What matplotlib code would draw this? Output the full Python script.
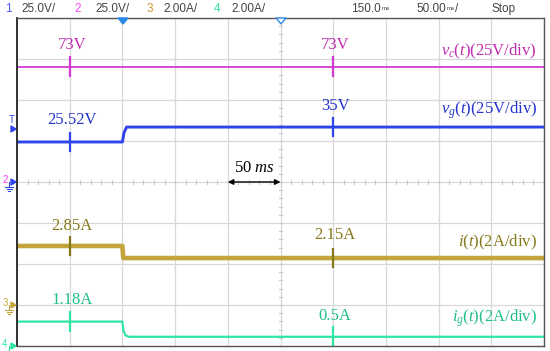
import matplotlib.pyplot as plt
from matplotlib.patches import Polygon

plt.rcParams['mathtext.fontset'] = 'custom'
plt.rcParams['mathtext.rm'] = 'Liberation Serif'
plt.rcParams['mathtext.it'] = 'Liberation Serif:italic'

W, H = 550, 351

# scope settings
time_per_div = 50          # ms/div
t_start = -100             # ms at left edge (trigger at 0)
volt_per_div = 25          # V/div, channels 1 and 2
amp_per_div = 2            # A/div, channels 3 and 4
ground_div = {'vc': 0.0, 'vg': 0.0, 'i': -3.0, 'ig': -4.0}

# traces (time in ms, values in V or A)
t_vc = [-100, 400]
vc = [70.3, 70.3]
t_vg = [-100, 0, 1.5, 4, 400]
vg = [24.4, 24.4, 30.0, 33.5, 33.5]
t_i = [-100, 0, 0.8, 400]
i_l = [2.88, 2.88, 2.29, 2.29]
t_ig = [-100, 0, 1, 3, 6, 400]
ig = [1.19, 1.19, 0.75, 0.52, 0.45, 0.45]

# cursor readouts
cursor_t = [-50, 200]
vc_labels = ['73V', '73V']
vg_labels = ['25.52V', '35V']
i_labels = ['2.85A', '2.15A']
ig_labels = ['1.18A', '0.5A']

names = [r'$v_c(t)$(25V/div)', r'$v_g(t)$(25V/div)',
         r'$i(t)$(2A/div)', r'$i_g(t)$(2A/div)']

c_mag = '#d23ad2'
c_blue = '#2f44ea'
c_gold = '#c4a43c'
c_green = '#2ee6a2'
t_mag = '#c02cb0'
t_blue = '#2233cc'
t_gold = '#857818'
t_green = '#1fbf8a'


def py(ypx):
    # pixel row -> divisions
    return (182 - ypx) / 41.0


def to_div(vals, key, scale):
    return [ground_div[key] + v / scale for v in vals]


fig = plt.figure(figsize=(W / 100, H / 100), dpi=100)
ax = fig.add_axes([17 / W, 5 / H, 527 / W, 328 / H])
ax.set_xlim(t_start, t_start + 10 * time_per_div)
ax.set_ylim(-4, 4)
ax.set_xticks([t_start + k * time_per_div for k in range(11)])
ax.set_yticks(range(-4, 5))
ax.tick_params(length=0, labelbottom=False, labelleft=False)
ax.grid(True, color='#d8d8d8', lw=0.9)
for s in ax.spines.values():
    s.set_color('#555555')
    s.set_linewidth(1.0)
ax.spines['left'].set_color('#222222')
ax.spines['left'].set_linewidth(1.3)

# centre cross minor ticks
tc = t_start + 5 * time_per_div
for k in range(1, 50):
    x = t_start + k * time_per_div / 5
    ax.plot([x, x], [-0.05, 0.05], color='#cccccc', lw=0.8)
for k in range(1, 40):
    y = -4 + k * 0.2
    ax.plot([tc - 1.2, tc + 1.2], [y, y], color='#cccccc', lw=0.8)

# traces
ax.plot(t_vc, to_div(vc, 'vc', volt_per_div), color=c_mag, lw=1.3)
ax.plot(t_vg, to_div(vg, 'vg', volt_per_div), color=c_blue, lw=2.1)
ax.plot(t_i, to_div(i_l, 'i', amp_per_div), color=c_gold, lw=3.3)
ax.plot(t_ig, to_div(ig, 'ig', amp_per_div), color=c_green, lw=1.6)

# cursor ticks
for tv, vals, key, sc, col in [(t_vc, vc, 'vc', volt_per_div, c_mag),
                               (t_vg, vg, 'vg', volt_per_div, c_blue),
                               (t_i, i_l, 'i', amp_per_div, t_gold),
                               (t_ig, ig, 'ig', amp_per_div, c_green)]:
    yv = to_div(vals, key, sc)
    for ct in cursor_t:
        y0 = yv[0] if ct < 0 else yv[-1]
        ax.plot([ct, ct], [y0 - 0.23, y0 + 0.23], color=col, lw=1.6)

serif = 'Liberation Serif'
fs = 12
label_rows = [(vc_labels, [45, 45], t_mag),
              (vg_labels, [120, 106], t_blue),
              (i_labels, [226, 235], t_gold),
              (ig_labels, [300, 316], t_green)]
for labs, rows, col in label_rows:
    for ct, lab, r in zip(cursor_t, labs, rows):
        ax.text(ct + 2, py(r), lab, color=col, fontsize=fs, family=serif,
                ha='center', va='center')

name_rows = [51, 110, 242, 318]
name_cols = [t_mag, t_blue, t_gold, t_green]
for nm, r, col in zip(names, name_rows, name_cols):
    fig.text(537 / W, 1 - r / H, nm, color=col, fontsize=fs, family=serif,
             ha='right', va='center')

# 50 ms span
ax.annotate('', xy=(tc - time_per_div, 0), xytext=(tc, 0),
            arrowprops=dict(arrowstyle='<|-|>', color='black', lw=1.0,
                            mutation_scale=8, shrinkA=0, shrinkB=0))
ax.text(tc - time_per_div / 2, py(168), r'50 $ms$', fontsize=fs, family=serif,
        ha='center', va='center')


def fx(x):
    return x / W


def fy(y):
    return 1 - y / H


# header
hf = 8.5
hdr = [(8, '1', '#4d55ff'), (39, '25.0V/', '#444444'),
       (78, '2', '#ff44ff'), (112, '25.0V/', '#444444'),
       (150, '3', '#cc9933'), (180, '2.00A/', '#444444'),
       (217, '4', '#33e699'), (249, '2.00A/', '#444444'),
       (366, '150.0', '#444444'), (431, '50.00', '#444444'),
       (504, 'Stop', '#444444')]
for x, s, col in hdr:
    fig.text(fx(x), fy(9), s, color=col, fontsize=hf, family='Liberation Sans',
             ha='center', va='center')
for x in [386, 451]:
    fig.text(fx(x), fy(9), 'ms', color='#444444', fontsize=4.5,
             family='Liberation Sans', ha='center', va='center')
fig.text(fx(457), fy(9), '/', color='#444444', fontsize=hf,
         family='Liberation Sans', ha='center', va='center')

# trigger markers on top edge
fig.patches.append(Polygon([(fx(118), fy(18)), (fx(128), fy(18)), (fx(123), fy(24))],
                           closed=True, transform=fig.transFigure,
                           facecolor='#2a8ae6', edgecolor='#2a8ae6'))
fig.patches.append(Polygon([(fx(276), fy(18)), (fx(286), fy(18)), (fx(281), fy(24))],
                           closed=True, transform=fig.transFigure,
                           facecolor='white', edgecolor='#2a8ae6', lw=1))

# left markers
fig.text(fx(12), fy(120), 'T', color=c_blue, fontsize=7, family='Liberation Sans',
         ha='center', va='center')
for ymk, dig, dcol, acol in [(182, '2', '#ff33ff', c_blue), (305, '3', '#c4a43c', '#c4a43c'),
                             (346, '4', c_green, c_green)]:
    fig.text(fx(5), fy(ymk - 2), dig, color=dcol, fontsize=7,
             family='Liberation Sans', ha='center', va='center')
    fig.patches.append(Polygon([(fx(11), fy(ymk - 3)), (fx(11), fy(ymk + 3)), (fx(16), fy(ymk))],
                               closed=True, transform=fig.transFigure,
                               facecolor=acol, edgecolor=acol))
    fig.lines.append(plt.Line2D([fx(9), fx(9)], [fy(ymk), fy(ymk + 5)],
                                transform=fig.transFigure, color=acol, lw=0.8))
    for k, hw in enumerate([4, 2.5, 1]):
        yy = ymk + 5 + 2 * k
        fig.lines.append(plt.Line2D([fx(9 - hw), fx(9 + hw)], [fy(yy), fy(yy)],
                                    transform=fig.transFigure, color=acol, lw=0.8))
fig.patches.append(Polygon([(fx(11), fy(126)), (fx(11), fy(132)), (fx(16), fy(129))],
                           closed=True, transform=fig.transFigure,
                           facecolor=c_blue, edgecolor=c_blue))

fig.savefig('out.png', dpi=100)
